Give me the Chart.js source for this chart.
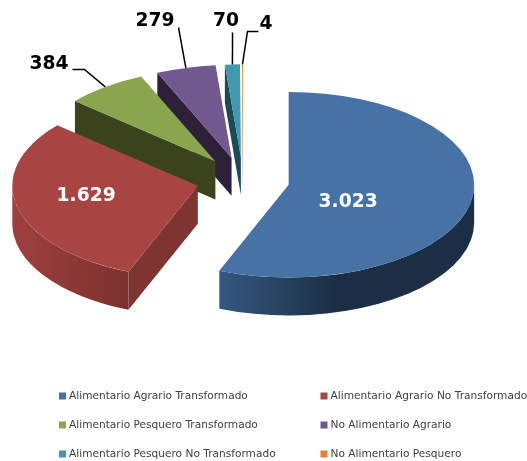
<!DOCTYPE html>
<html><head><meta charset="utf-8">
<style>html,body{margin:0;padding:0;background:#fff}canvas{display:block;filter:blur(0.35px)}</style>
<script src="https://cdn.jsdelivr.net/npm/chart.js@4"></script>
</head><body><canvas id="c" width="527" height="461"></canvas>
<script>
const categories = ["Alimentario Agrario Transformado","Alimentario Agrario No Transformado","Alimentario Pesquero Transformado","No Alimentario Agrario","Alimentario Pesquero No Transformado","No Alimentario Pesquero"];
const values = [3023,1629,384,279,70,4];
const topColors = ["#4672A6","#A84542","#89A54E","#71588F","#4198AF","#DB843D"];
const wallColors = ["#1B2E45","#7E3431","#3A431C","#2D2139","#1A4A57","#8A4F20"];
const rimFrom = ["#35587F","#9E403D","#3A431C","#2D2139","#1A4A57","#8A4F20"];
const rimTo = ["#1B2E45","#7A322F","#3A431C","#2D2139","#1A4A57","#8A4F20"];
const rimStops = [0.46,1,1,1,1,1];
const SQUASH = 0.5, DEPTH = 38, EXPLODE = 46.5, RADIUS = 185.5;
const labelOffsets = [
  {inside:true,dx:59.5,dy:17},
  {inside:true,dx:-111.7,dy:10},
  {tx:49,ty:64,lead:[[-21,-18],[-33,-18]]},
  {tx:155,ty:21,lead:[[-8,-41]]},
  {tx:226,ty:21,lead:[[0,-32]]},
  {tx:266,ty:24,lead:[[5,-33],[16,-33]]}
];
const legendCols = [59,320.5], legendRows = [396,425,454];
const fmt = v => String(v).replace(/\B(?=(\d{3})+$)/g,".");

const pie3d = {
  id:"pie3d",
  beforeDatasetsDraw(chart){
    const ctx = chart.ctx, arcs = chart.getDatasetMeta(0).data;
    const apex = a => {
      const m = (a.startAngle+a.endAngle)/2;
      return {x:a.x+EXPLODE*Math.cos(m), y:a.y+EXPLODE*Math.sin(m)*SQUASH};
    };
    for(let i=arcs.length-1;i>=0;i--){
      const a = arcs[i], p = apex(a), r = a.outerRadius;
      const pt = t => ({x:p.x+r*Math.cos(t), y:p.y+r*Math.sin(t)*SQUASH});
      const wall = t => {
        const q = pt(t);
        ctx.beginPath();ctx.moveTo(p.x,p.y);ctx.lineTo(q.x,q.y);ctx.lineTo(q.x,q.y+DEPTH);ctx.lineTo(p.x,p.y+DEPTH);ctx.closePath();
        ctx.fillStyle = wallColors[i];ctx.fill();
      };
      if(Math.cos(a.startAngle)<0) wall(a.startAngle);
      if(Math.cos(a.endAngle)>0) wall(a.endAngle);
      const s = Math.max(a.startAngle,0), e = Math.min(a.endAngle,Math.PI);
      if(e>s){
        const xs = pt(s).x, xe = pt(e).x;
        const g = ctx.createLinearGradient(Math.min(xs,xe),0,Math.max(xs,xe),0);
        g.addColorStop(0,rimFrom[i]);g.addColorStop(rimStops[i],rimTo[i]);g.addColorStop(1,rimTo[i]);
        ctx.beginPath();
        ctx.ellipse(p.x,p.y,r,r*SQUASH,0,s,e,false);
        ctx.ellipse(p.x,p.y+DEPTH,r,r*SQUASH,0,e,s,true);
        ctx.closePath();ctx.fillStyle=g;ctx.fill();
      }
      ctx.save();
      ctx.translate(p.x,p.y);ctx.scale(1,SQUASH);ctx.translate(-a.x,-a.y);
      a.draw(ctx);
      ctx.restore();
    }
    // data labels
    ctx.save();
    ctx.textAlign="center";ctx.textBaseline="middle";
    arcs.forEach((a,i)=>{
      const p = apex(a), m=(a.startAngle+a.endAngle)/2, o=labelOffsets[i];
      ctx.font='bold 18.7px "DejaVu Sans"';
      if(o.inside){
        ctx.fillStyle="#fff";ctx.fillText(fmt(values[i]),p.x+o.dx,p.y+o.dy);
      }else{
        const ax=p.x+a.outerRadius*Math.cos(m), ay=p.y+a.outerRadius*Math.sin(m)*SQUASH;
        ctx.beginPath();ctx.moveTo(ax,ay);
        o.lead.forEach(d=>ctx.lineTo(Math.round(ax+d[0])+.5,Math.round(ay+d[1])+.5));
        ctx.strokeStyle="#000";ctx.lineWidth=1.5;ctx.stroke();
        ctx.fillStyle="#000";ctx.fillText(fmt(values[i]),o.tx,o.ty);
      }
    });
    // legend
    ctx.font='10.6px "DejaVu Sans"';ctx.textAlign="left";ctx.textBaseline="middle";
    categories.forEach((c,i)=>{
      const x=legendCols[i%2], y=legendRows[Math.floor(i/2)];
      ctx.fillStyle=topColors[i];ctx.fillRect(x,y-3.5,7,7);
      ctx.fillStyle="#404040";ctx.fillText(c,x+10,y);
    });
    ctx.restore();
  },
  beforeDatasetDraw(){ return false; }
};

new Chart(document.getElementById("c"),{
  type:"pie",
  data:{labels:categories,datasets:[{data:values,backgroundColor:topColors,borderWidth:0,radius:RADIUS}]},
  options:{
    responsive:false,animation:false,
    events:[],
    layout:{padding:{left:0,top:0,right:41,bottom:100.4}},
    plugins:{legend:{display:false},tooltip:{enabled:false},title:{display:false}}
  },
  plugins:[pie3d]
});
</script></body></html>
